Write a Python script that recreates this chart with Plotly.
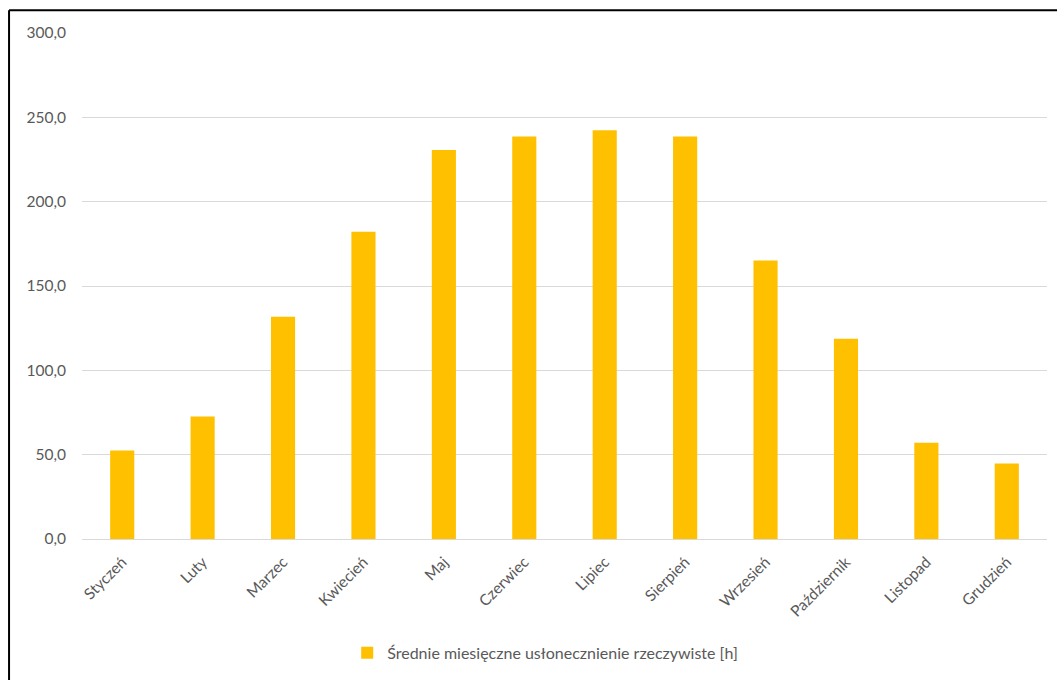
import plotly.graph_objects as go

months = ["Styczeń", "Luty", "Marzec", "Kwiecień", "Maj", "Czerwiec", "Lipiec",
          "Sierpień", "Wrzesień", "Październik", "Listopad", "Grudzień"]
sunshine_hours = [52.5, 72.7, 131.7, 182.2, 230.7, 238.6, 242.3, 238.6, 165.1, 118.7, 57.0, 44.8]
series_name = "Średnie miesięczne usłonecznienie rzeczywiste [h]"
y_ticks = [0, 50, 100, 150, 200, 250, 300]

FONT = "Lato"
GRAY = "#595959"

fig = go.Figure()
fig.add_trace(go.Bar(
    x=months, y=sunshine_hours, name=series_name,
    marker=dict(color="#FFC000", line=dict(width=0)),
    showlegend=True,
))

fig.update_layout(
    width=1057, height=680,
    margin=dict(l=82, r=10, t=33, b=138),
    paper_bgcolor="white", plot_bgcolor="white",
    separators=", ",
    bargap=0.70,
    font=dict(family=FONT, size=15, color=GRAY),
    showlegend=True,
    legend=dict(orientation="h", x=0.48, xanchor="center", y=-0.225, yanchor="middle",
                font=dict(family=FONT, size=16, color=GRAY),
                itemwidth=30, bgcolor="rgba(0,0,0,0)"),
    xaxis=dict(tickangle=-45, showgrid=False, showline=True, linecolor="#d9d9d9",
               linewidth=1, ticks="", ticklabelstandoff=7,
               tickfont=dict(family=FONT, size=15.5, color=GRAY)),
    yaxis=dict(range=[0, 300], tickvals=y_ticks, tickformat=".1f",
               showgrid=True, gridcolor="#d9d9d9", gridwidth=1,
               zeroline=True, zerolinecolor="#d9d9d9", zerolinewidth=1,
               showline=False, ticks="", ticklabelstandoff=15,
               tickfont=dict(family=FONT, size=15.5, color=GRAY)),
    shapes=[
        dict(type="line", xref="paper", yref="paper", x0=-0.0756, x1=1.0104,
             y0=1.0448, y1=1.0448, line=dict(color="black", width=2)),
        dict(type="line", xref="paper", yref="paper", x0=-0.0756, x1=-0.0756,
             y0=1.0448, y1=-0.30, line=dict(color="black", width=2)),
    ],
)

fig.write_html("out.html", config={"displayModeBar": False})
